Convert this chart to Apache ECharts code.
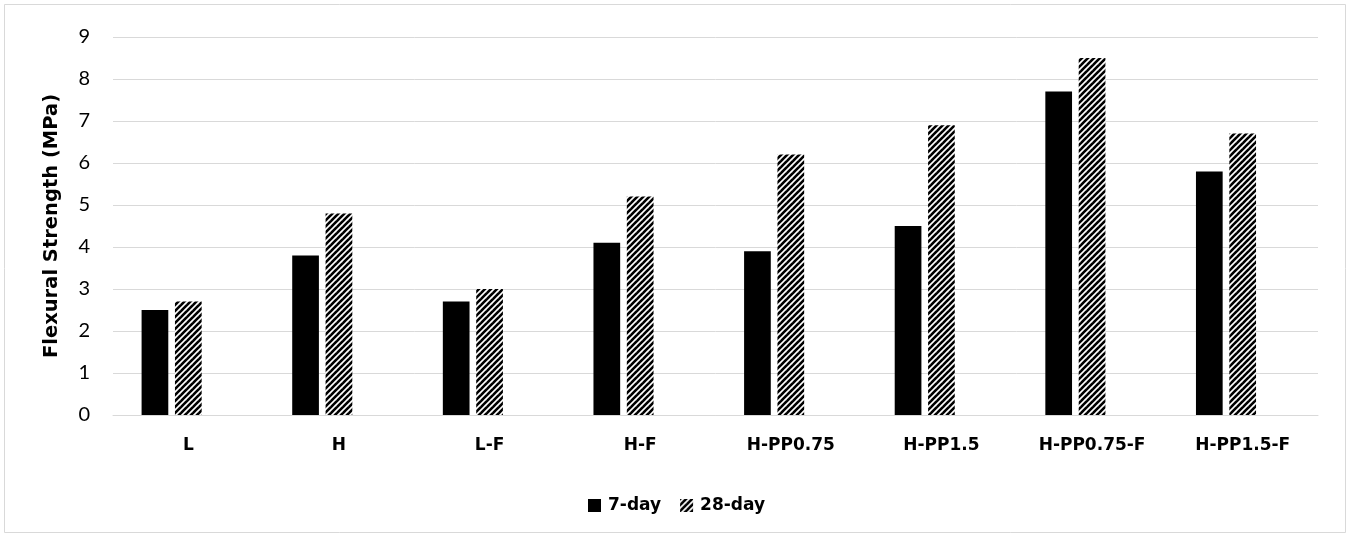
<!DOCTYPE html>
<html><head><meta charset="utf-8">
<script src="https://cdn.jsdelivr.net/npm/echarts@6/dist/echarts.min.js"></script>
<style>html,body{margin:0;padding:0;background:#fff}#c{width:1353px;height:537px}</style>
</head><body><div id="c"></div>
<script>
const categories = ['L','H','L-F','H-F','H-PP0.75','H-PP1.5','H-PP0.75-F','H-PP1.5-F'];
const day7 = [2.5,3.8,2.7,4.1,3.9,4.5,7.7,5.8];
const day28 = [2.7,4.8,3.0,5.2,6.2,6.9,8.5,6.7];
const emptySeries = [null,null,null,null,null,null,null,null];
const yTicks = {min:0,max:9,interval:1};

function hatch(){
  const s=6, c=document.createElement('canvas');
  c.width=s;c.height=s;
  const g=c.getContext('2d');
  g.fillStyle='#fff';g.fillRect(0,0,s,s);
  g.strokeStyle='#000';g.lineWidth=2.6;
  for(let k=-1;k<=1;k++){
    g.beginPath();g.moveTo(k*s-1,s+1);g.lineTo(k*s+s+1,-1);g.stroke();
  }
  return c;
}
const pat={image:hatch(),repeat:'repeat'};
const boldFont='"DejaVu Sans", sans-serif';
const tickFont='Lato, "Open Sans", sans-serif';
const chart=echarts.init(document.getElementById('c'));
chart.setOption({
  animation:false,
  backgroundColor:'#fff',
  graphic:[{type:'rect',shape:{x:4.5,y:4.5,width:1341,height:528},style:{fill:'none',stroke:'#d9d9d9',lineWidth:1}}],
  grid:{left:113,right:35,top:37,bottom:122},
  legend:{data:['7-day','28-day'],top:492,left:'center',itemWidth:13,itemHeight:13,itemGap:19,
    textStyle:{fontFamily:boldFont,fontWeight:'bold',fontSize:17,color:'#000',padding:[0,0,0,2]},icon:'rect'},
  xAxis:{type:'category',data:categories,
    axisLine:{lineStyle:{color:'#d9d9d9',width:1}},axisTick:{show:false},
    axisLabel:{fontFamily:boldFont,fontWeight:'bold',fontSize:17,color:'#000',margin:22,interval:0}},
  yAxis:{type:'value',min:yTicks.min,max:yTicks.max,interval:yTicks.interval,
    name:'Flexural Strength (MPa)',nameLocation:'middle',nameGap:51,
    nameTextStyle:{fontFamily:boldFont,fontWeight:'bold',fontSize:19.5,color:'#000'},
    axisLine:{show:false},axisTick:{show:false},
    splitLine:{lineStyle:{color:'#d9d9d9',width:1}},
    axisLabel:{fontFamily:tickFont,fontSize:20,color:'#000',margin:23}},
  series:[
    {name:'7-day',type:'bar',data:day7,barWidth:26.7,barGap:'25%',itemStyle:{color:'#000'}},
    {name:'28-day',type:'bar',data:day28,barWidth:26.7,barGap:'25%',itemStyle:{color:pat}},
    {name:'empty',type:'bar',data:emptySeries,barWidth:26.7,barGap:'25%'}
  ]
});
</script></body></html>
